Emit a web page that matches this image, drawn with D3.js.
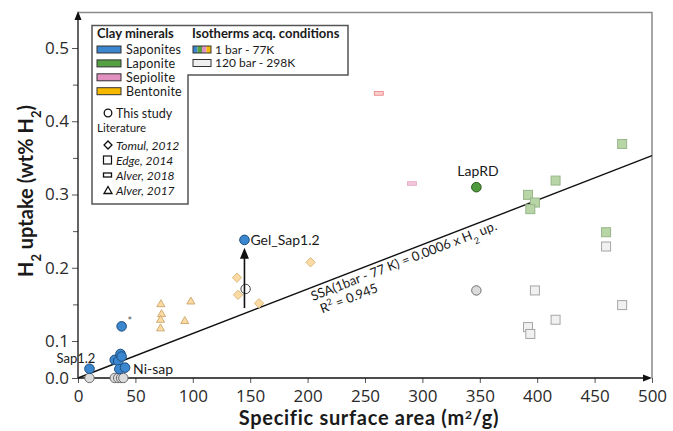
<!DOCTYPE html>
<html><head><meta charset="utf-8">
<script src="https://cdn.jsdelivr.net/npm/d3@7"></script>
<style>
body{margin:0;background:#fff;}
svg{display:block;font-family:Lato,"Open Sans",sans-serif;}
</style></head>
<body>
<svg id="c" width="673" height="431"></svg>
<script>
// ---- data ----
const xTicks = [0,50,100,150,200,250,300,350,400,450,500];
const yTicks = [0,0.1,0.2,0.3,0.4,0.5];
const yMinorTicks = [0.15,0.25,0.35,0.45];
// This study (circles) – 1 bar 77K, saponites
const sapThisStudy1bar = [[10,0.025],[32,0.049],[35,0.046],[37,0.065],[38,0.058],[36,0.024],[41,0.028],[38,0.12],[145,0.238]];
// This study – laponite 1 bar
const lapThisStudy1bar = [[347,0.31]];
// This study – 120 bar 298K
const thisStudy120bar = [[10,0],[32,0],[35,0],[37.5,0],[39.5,0],[146,0.171],[347,0.169]];
// Edge 2014 (squares) laponite 1 bar
const edge1bar = [[474,0.369],[416,0.319],[392,0.2995],[398,0.289],[394,0.28],[460,0.2485]];
// Edge 2014 120 bar
const edge120bar = [[460,0.229],[398,0.169],[474,0.149],[416,0.129],[392,0.119],[394,0.1096]];
// Alver 2018 (bars) sepiolite
const alver2018 = [[291,0.315],[262,0.438]];
// Tomul 2012 (diamonds) bentonite
const tomul2012 = [[202.6,0.2075],[138.5,0.1865],[139.4,0.163],[157.7,0.1515]];
// Alver 2017 (triangles) bentonite
const alver2017 = [[72.2,0.15],[72.8,0.1365],[71.9,0.1287],[71.9,0.117],[98.3,0.1537],[93,0.127]];
// regression line and annotation arrow
const fitLine = [[0,0],[500,0.353]];
const gelArrow = [[145,0.145],[145,0.226]];
const pointLabels = [
  {text:"Sap1.2", x:10, y:0.025, dx:-33, dy:-6, size:13},
  {text:"Ni-sap", x:41, y:0.028, dx:8, dy:6, size:14},
  {text:"Gel_Sap1.2", x:145, y:0.238, dx:6, dy:5, size:14},
  {text:"LapRD", x:347, y:0.31, dx:-19, dy:-11, size:14}
];
const clayNames = ["Saponites","Laponite","Sepiolite","Bentonite"];
const clayColors = ["#3b87cf","#54a043","#e190c0","#f7b900"];
const sourceNames = ["Tomul, 2012","Edge, 2014","Alver, 2018","Alver, 2017"];

// ---- scales ----
const svg = d3.select("#c");
const x = d3.scaleLinear().domain([0,500]).range([78,652]);
const y = d3.scaleLinear().domain([0,0.1,0.5]).range([378,341,48]);
const tickCol = "#2a2a2a";

// frame (top/right)
svg.append("path").attr("d",`M${x(0)},12.5H${x(500)}V${y(0)}`).attr("fill","none").attr("stroke","#8a8a8a").attr("stroke-width",1.5);

// axes
const gy = svg.append("g").attr("transform",`translate(${x(0)},0)`)
  .call(d3.axisLeft(y).tickValues(yTicks).tickFormat(d3.format(".1f")).tickSize(6).tickPadding(3));
const gym = svg.append("g").attr("transform",`translate(${x(0)},0)`)
  .call(d3.axisLeft(y).tickValues(yMinorTicks).tickFormat("").tickSize(5));
const gx = svg.append("g").attr("transform",`translate(0,${y(0)})`)
  .call(d3.axisBottom(x).tickValues(xTicks).tickFormat(d3.format("d")).tickSize(5).tickPadding(5));
[gy,gym,gx].forEach(g=>{
  g.select(".domain").remove();
  g.selectAll("line").attr("stroke","#555");
  g.selectAll("text").attr("font-family","'Open Sans',sans-serif").attr("font-size",17).attr("fill",tickCol);
});
gx.selectAll("text").attr("dy","0.8em");
// axis lines with arrows
svg.append("line").attr("x1",x(0)).attr("x2",x(0)).attr("y1",y(0)).attr("y2",16).attr("stroke","#111").attr("stroke-width",1.3);
svg.append("path").attr("d",`M${x(0)-3.5},20L${x(0)},11L${x(0)+3.5},20Z`).attr("fill","#111");
svg.append("line").attr("x1",x(0)).attr("x2",x(500)-4).attr("y1",y(0)).attr("y2",y(0)).attr("stroke","#111").attr("stroke-width",1.3);
svg.append("path").attr("d",`M${x(500)-9},${y(0)-3.5}L${x(500)},${y(0)}L${x(500)-9},${y(0)+3.5}Z`).attr("fill","#111");

// axis titles
svg.append("text").attr("x",369).attr("y",425).attr("text-anchor","middle")
  .attr("font-weight","bold").attr("font-size",20).attr("letter-spacing",0.7).attr("fill","#1a1a1a")
  .html('Specific surface area (m<tspan dy="-6" font-size="12">2</tspan><tspan dy="6">/g)</tspan>');
svg.append("text").attr("transform","translate(33,191) rotate(-90)").attr("text-anchor","middle")
  .attr("font-weight","bold").attr("font-size",20).attr("fill","#1a1a1a")
  .html('H<tspan baseline-shift="sub" font-size="13">2</tspan> uptake (wt% H<tspan baseline-shift="sub" font-size="13">2</tspan>)');

// regression line
svg.append("line").attr("x1",x(fitLine[0][0])).attr("y1",y(fitLine[0][1]))
  .attr("x2",x(fitLine[1][0])).attr("y2",y(fitLine[1][1])).attr("stroke","#111").attr("stroke-width",1.4);
const ang = Math.atan2(y(fitLine[1][1])-y(fitLine[0][1]), x(fitLine[1][0])-x(fitLine[0][0]))*180/Math.PI;
const lg = svg.append("g").attr("transform",`translate(${x(0)},${y(0)}) rotate(${ang})`)
  .attr("font-size",13).attr("fill","#1a1a1a");
lg.append("text").attr("x",247).attr("y",13)
  .html('SSA(1bar - 77 K) = 0.0006 x H<tspan baseline-shift="sub" font-size="9">2</tspan> up.');
lg.append("text").attr("x",251).attr("y",28)
  .html('R<tspan baseline-shift="super" font-size="9">2</tspan> = 0.945');

// ---- points ----
const pts = svg.append("g");
// Edge squares
pts.selectAll(".e120").data(edge120bar).join("rect")
  .attr("x",d=>x(d[0])-4.5).attr("y",d=>y(d[1])-4.5).attr("width",9).attr("height",9)
  .attr("fill","#f1f1f1").attr("stroke","#a5a5a5").attr("stroke-width",1);
pts.selectAll(".e1").data(edge1bar).join("rect")
  .attr("x",d=>x(d[0])-4.5).attr("y",d=>y(d[1])-4.5).attr("width",9).attr("height",9)
  .attr("fill","#b8d5a6").attr("stroke","#98b58a").attr("stroke-width",1);
// Alver 2018 bars
pts.selectAll(".a18").data(alver2018).join("rect")
  .attr("x",d=>x(d[0])-4.5).attr("y",d=>y(d[1])-1.8).attr("width",9).attr("height",3.6)
  .attr("fill",(d,i)=>i===0?"#f3c6dc":"#f9d0d0").attr("stroke",(d,i)=>i===0?"#e3a6c3":"#ec7a7a").attr("stroke-width",0.8);
// Tomul diamonds
pts.selectAll(".tom").data(tomul2012).join("rect")
  .attr("x",-3.3).attr("y",-3.3).attr("width",6.6).attr("height",6.6)
  .attr("transform",d=>`translate(${x(d[0])},${y(d[1])}) rotate(45)`)
  .attr("fill","#fbdba3").attr("stroke","#d9b77a").attr("stroke-width",0.9);
// Alver 2017 triangles
const tri = d3.symbol().type(d3.symbolTriangle).size(28);
pts.selectAll(".a17").data(alver2017).join("path")
  .attr("d",tri).attr("transform",d=>`translate(${x(d[0])},${y(d[1])})`)
  .attr("fill","#fbdba3").attr("stroke","#c9a56a").attr("stroke-width",0.9);
// This study 120 bar
pts.selectAll(".t120").data(thisStudy120bar).join("circle")
  .attr("cx",d=>x(d[0])).attr("cy",d=>y(d[1])).attr("r",4.7)
  .attr("fill",(d,i)=>i===5?"#ffffff":"#dcdcdc").attr("stroke",(d,i)=>i===5?"#444":"#6d6d6d").attr("stroke-width",1);
// arrow
svg.append("line").attr("x1",x(gelArrow[0][0])).attr("x2",x(gelArrow[1][0]))
  .attr("y1",y(gelArrow[0][1])).attr("y2",y(gelArrow[1][1])+6).attr("stroke","#111").attr("stroke-width",1.6);
svg.append("path").attr("d",`M${x(gelArrow[1][0])-4.5},${y(gelArrow[1][1])+10}L${x(gelArrow[1][0])},${y(gelArrow[1][1])-1}L${x(gelArrow[1][0])+4.5},${y(gelArrow[1][1])+10}Z`).attr("fill","#111");
// This study 1 bar
pts.append("g").selectAll("circle").data(sapThisStudy1bar).join("circle")
  .attr("cx",d=>x(d[0])).attr("cy",d=>y(d[1])).attr("r",4.8)
  .attr("fill",clayColors[0]).attr("stroke","#1f4e7e").attr("stroke-width",1);
pts.append("g").selectAll("circle").data(lapThisStudy1bar).join("circle")
  .attr("cx",d=>x(d[0])).attr("cy",d=>y(d[1])).attr("r",4.8)
  .attr("fill","#4f9a3d").attr("stroke","#2b5a20").attr("stroke-width",1);
// asterisk
svg.append("text").attr("x",x(38)+6).attr("y",y(0.12)-1).attr("font-size",11).attr("fill","#555").text("*");

// point labels
svg.append("g").selectAll("text").data(pointLabels).join("text")
  .attr("x",d=>x(d.x)+d.dx).attr("y",d=>y(d.y)+d.dy)
  .attr("font-size",d=>d.size).attr("fill","#1a1a1a").text(d=>d.text);

// ---- legend ----
const L = svg.append("g");
L.append("path").attr("d","M92,25.5H348V75H188V204H92Z").attr("fill","#fff").attr("stroke","#555").attr("stroke-width",1.5);
L.append("text").attr("x",97).attr("y",38).attr("font-weight","bold").attr("font-size",13).attr("fill","#1a1a1a").text("Clay minerals");
L.append("text").attr("x",192).attr("y",38).attr("font-weight","bold").attr("font-size",13).attr("fill","#1a1a1a").text("Isotherms acq. conditions");
clayNames.forEach((n,i)=>{
  const cy = 49.5 + i*13.9;
  L.append("rect").attr("x",97).attr("y",cy-3.5).attr("width",24).attr("height",7).attr("fill",clayColors[i]).attr("stroke","#333").attr("stroke-width",1);
  L.append("text").attr("x",126).attr("y",cy+4.3).attr("font-size",12.5).attr("letter-spacing",0.2).attr("fill","#1a1a1a").text(n);
});
// isotherm swatches
clayColors.forEach((c,i)=>{
  L.append("rect").attr("x",193+i*4.5).attr("y",46).attr("width",4.5).attr("height",7).attr("fill",c);
});
L.append("rect").attr("x",193).attr("y",46).attr("width",18).attr("height",7).attr("fill","none").attr("stroke","#333").attr("stroke-width",1);
L.append("rect").attr("x",193).attr("y",59.5).attr("width",18).attr("height",7).attr("fill","#efefef").attr("stroke","#333").attr("stroke-width",1);
L.append("text").attr("x",215).attr("y",53.5).attr("font-size",12).attr("fill","#1a1a1a").text("1 bar - 77K");
L.append("text").attr("x",215).attr("y",67).attr("font-size",12).attr("fill","#1a1a1a").text("120 bar - 298K");
// symbols legend
L.append("circle").attr("cx",108).attr("cy",113).attr("r",3.8).attr("fill","#fff").attr("stroke","#111").attr("stroke-width",1.3);
L.append("text").attr("x",116).attr("y",117.5).attr("font-size",12.5).attr("fill","#1a1a1a").text("This study");
L.append("text").attr("x",97).attr("y",132).attr("font-size",11.5).attr("fill","#1a1a1a").text("Literature");
const symY = [145,160,175,190];
L.append("rect").attr("x",-2.8).attr("y",-2.8).attr("width",5.6).attr("height",5.6).attr("transform",`translate(108,${symY[0]}) rotate(45)`).attr("fill","#fff").attr("stroke","#111").attr("stroke-width",1.3);
L.append("rect").attr("x",103.5).attr("y",symY[1]-4).attr("width",8).attr("height",8).attr("fill","#fff").attr("stroke","#111").attr("stroke-width",1.2);
L.append("rect").attr("x",103.5).attr("y",symY[2]-2).attr("width",8).attr("height",4).attr("fill","#fff").attr("stroke","#111").attr("stroke-width",1.3);
L.append("path").attr("d",`M104,${symY[3]+3.5}L108,${symY[3]-3.5}L112,${symY[3]+3.5}Z`).attr("fill","#fff").attr("stroke","#111").attr("stroke-width",1.3);
sourceNames.forEach((n,i)=>{
  L.append("text").attr("x",116).attr("y",symY[i]+4.5).attr("font-size",12).attr("font-style","italic").attr("fill","#1a1a1a").text(n);
});
</script>
</body></html>
